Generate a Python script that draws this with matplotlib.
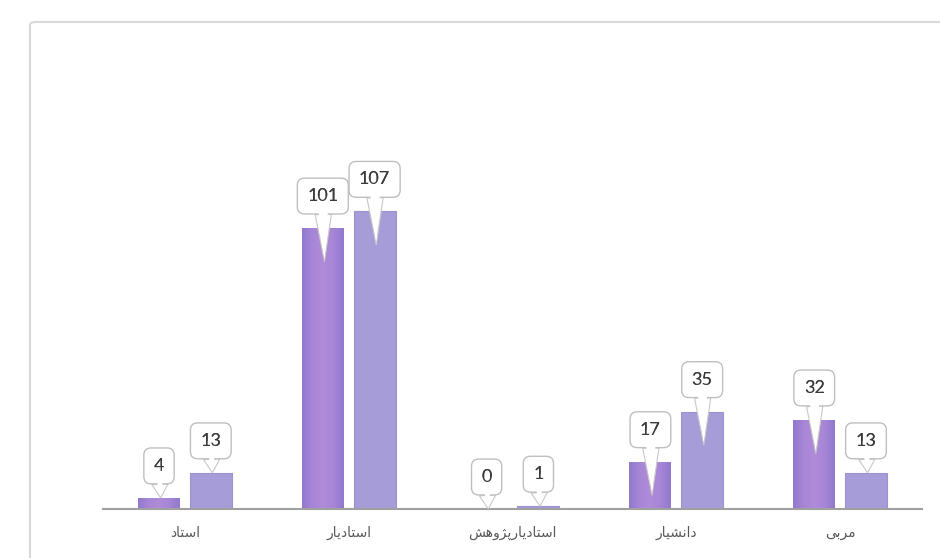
import matplotlib
matplotlib.use("Agg")
import matplotlib.pyplot as plt
from matplotlib.patches import FancyBboxPatch
from matplotlib.colors import LinearSegmentedColormap
import numpy as np

categories = ["استاد", "استادیار", "استادیارپژوهش", "دانشیار", "مربی"]
series1 = [4, 101, 0, 17, 32]
series2 = [13, 107, 1, 35, 13]

FORMS = {
    'ا': ('\uFE8D', '\uFE8E', None, None),
    'ب': ('\uFE8F', '\uFE90', '\uFE91', '\uFE92'),
    'پ': ('\uFB56', '\uFB57', '\uFB58', '\uFB59'),
    'ت': ('\uFE95', '\uFE96', '\uFE97', '\uFE98'),
    'د': ('\uFEA9', '\uFEAA', None, None),
    'ر': ('\uFEAD', '\uFEAE', None, None),
    'ژ': ('\uFB8A', '\uFB8B', None, None),
    'س': ('\uFEB1', '\uFEB2', '\uFEB3', '\uFEB4'),
    'ش': ('\uFEB5', '\uFEB6', '\uFEB7', '\uFEB8'),
    'م': ('\uFEE1', '\uFEE2', '\uFEE3', '\uFEE4'),
    'ن': ('\uFEE5', '\uFEE6', '\uFEE7', '\uFEE8'),
    'و': ('\uFEED', '\uFEEE', None, None),
    'ه': ('\uFEE9', '\uFEEA', '\uFEEB', '\uFEEC'),
    'ی': ('\uFBFC', '\uFBFD', '\uFBFE', '\uFBFF'),
}


def shape_rtl(s):
    out = []
    n = len(s)
    for i, c in enumerate(s):
        if c not in FORMS:
            out.append(c)
            continue
        prev_j = i > 0 and s[i - 1] in FORMS and FORMS[s[i - 1]][2] is not None
        next_j = i < n - 1 and s[i + 1] in FORMS and FORMS[c][2] is not None
        if prev_j and next_j:
            idx = 3
        elif prev_j:
            idx = 1
        elif next_j:
            idx = 2
        else:
            idx = 0
        out.append(FORMS[c][idx])
    return "".join(out[::-1])


W, H = 940, 558
fig = plt.figure(figsize=(W / 100, H / 100), dpi=100)
fig.patch.set_facecolor("white")

# outer chart frame
frame = FancyBboxPatch((30 / W, -0.1), 1.2, 1 - 22 / H + 0.1,
                       boxstyle="round,pad=0,rounding_size=0.006",
                       transform=fig.transFigure, fc="none", ec="#d9d9d9",
                       lw=1.5, zorder=-5)
fig.patches.append(frame)

ax = fig.add_axes([103 / W, 1 - 509 / H, 819 / W, (509 - 40) / H])
ax.set_facecolor("none")
ax.set_zorder(2)

x = np.arange(len(categories))
bw = 0.256
off = 0.158

bars1 = ax.bar(x - off, series1, width=bw, color="#9f82d6", zorder=2)
bars2 = ax.bar(x + off, series2, width=bw, color="#a69dd8",
               edgecolor="#9b92d1", linewidth=0.8, zorder=2)

# horizontal gradient inside series-1 bars
grad_cmap = LinearSegmentedColormap.from_list(
    "g", ["#9079ce", "#a786d7", "#b08cd9", "#a786d7", "#9079ce"])
grad = np.linspace(0, 1, 64).reshape(1, -1)
for b in bars1:
    if b.get_height() <= 0:
        continue
    bx, by = b.get_x(), b.get_y()
    im = ax.imshow(grad, cmap=grad_cmap, aspect="auto",
                   extent=(bx, bx + b.get_width(), by, by + b.get_height()),
                   zorder=2.5, interpolation="bilinear")
    im.set_clip_path(b)
ax.set_xlim(-0.5, len(categories) - 0.5)
ax.set_ylim(0, 168.6)

for side in ["top", "right", "left"]:
    ax.spines[side].set_visible(False)
ax.spines["bottom"].set_color("#a0a0a0")
ax.spines["bottom"].set_linewidth(1.5)
ax.spines["bottom"].set_zorder(3)
ax.set_yticks([])
ax.set_xticks(x)
ax.set_xticklabels([shape_rtl(c) for c in categories], fontsize=10,
                   color="#595959", family=["DejaVu Sans"])
ax.tick_params(axis="x", length=0, pad=12)

FS = 13
BOX = dict(boxstyle="round,pad=0.55,rounding_size=0.4",
           fc="white", ec="#bfbfbf", lw=1)
WEDGE = "wedge,tail_width=0.9,shrink_factor=0.5"


def callout(xc, v):
    tip = v - 12 if v > 15 else v
    tx, ty = xc, v + 11.5
    # box + outlined tail
    ax.annotate(str(v), xy=(xc + 0.01, tip), xytext=(tx, ty),
                textcoords="data", ha="center", va="center",
                fontsize=FS, color="#3a3a3a", family=["Lato", "DejaVu Sans"],
                bbox=BOX,
                arrowprops=dict(arrowstyle=WEDGE, fc="white", ec="#c8c8c8",
                                lw=0.8, shrinkA=0, shrinkB=0),
                zorder=5, annotation_clip=False)
    # white tail over the box border so the tail merges with the box
    ax.annotate("", xy=(xc + 0.01, tip), xytext=(tx, ty),
                textcoords="data",
                arrowprops=dict(arrowstyle=WEDGE, fc="white", ec="none",
                                lw=0, shrinkA=0, shrinkB=1.5),
                zorder=6, annotation_clip=False)
    # number on top
    ax.text(tx, ty, str(v), ha="center", va="center", fontsize=FS,
            color="#3a3a3a", family=["Lato", "DejaVu Sans"], zorder=7)


for i in range(len(categories)):
    callout(x[i] - off, series1[i])
    callout(x[i] + off, series2[i])

fig.savefig("out.png", dpi=100, facecolor="white")
